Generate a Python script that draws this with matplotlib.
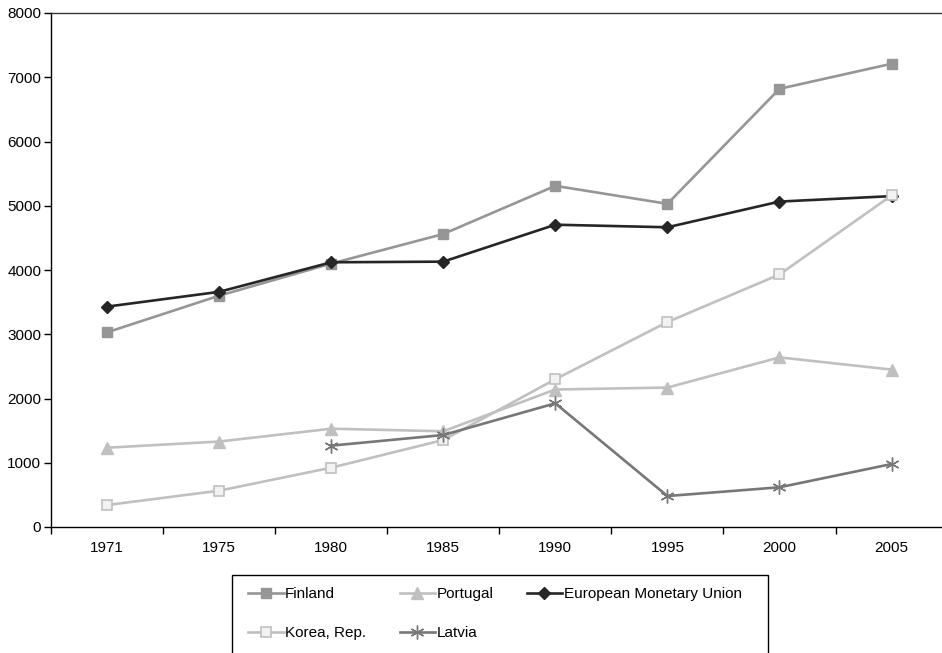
import numpy as np
import matplotlib.pyplot as plt
from matplotlib.patches import Rectangle
from matplotlib.ticker import MultipleLocator, FixedLocator

plt.rcParams['font.family'] = ['Liberation Sans', 'DejaVu Sans']

# Data
years = ['1971', '1975', '1980', '1985', '1990', '1995', '2000', '2005']
finland = [3030, 3600, 4100, 4560, 5310, 5030, 6820, 7210]
portugal = [1234, 1330, 1530, 1490, 2140, 2170, 2640, 2450]
emu = [3430, 3660, 4120, 4130, 4705, 4665, 5065, 5150]
korea = [342, 565, 923, 1354, 2300, 3190, 3930, 5160]
latvia = [np.nan, np.nan, 1266, 1432, 1925, 482, 618, 980]

x = np.arange(len(years))

fig = plt.figure(figsize=(9.42, 6.53), dpi=100)
ax = fig.add_axes([51 / 942, 126 / 653, 891 / 942, 514 / 653])

h_fin, = ax.plot(x, finland, '-s', color='#969696', lw=1.9, markersize=7,
                 mfc='#969696', mec='#969696', label='Finland')
h_por, = ax.plot(x, portugal, '-^', color='#C0C0C0', lw=1.9, markersize=8,
                 mfc='#C0C0C0', mec='#C0C0C0', label='Portugal')
h_emu, = ax.plot(x, emu, '-D', color='#262626', lw=1.9, markersize=6.5,
                 mfc='#262626', mec='#262626', label='European Monetary Union')
h_kor, = ax.plot(x, korea, '-s', color='#C0C0C0', lw=1.9, markersize=7,
                 mfc='#F2F2F2', mec='#C0C0C0', mew=1.2, label='Korea, Rep.')
h_lat, = ax.plot(x, latvia, '-', color='#777777', lw=1.9, marker=(6, 2, 0),
                 markersize=10, mec='#777777', mew=1.0, label='Latvia')

ax.set_ylim(0, 8000)
ax.set_xlim(-0.5, 7.45)
ax.yaxis.set_major_locator(MultipleLocator(1000))
ax.set_xticks(x)
ax.set_xticklabels(years)
ax.xaxis.set_minor_locator(FixedLocator(np.arange(-0.5, 8, 1)))
ax.tick_params(axis='x', which='major', length=0, pad=10, labelsize=11)
ax.tick_params(axis='x', which='minor', length=5, width=1, direction='out')
ax.tick_params(axis='y', which='major', length=5, width=1, direction='out',
               labelsize=11, pad=2)

for side in ['left', 'bottom', 'top']:
    ax.spines[side].set_linewidth(1.0)
    ax.spines[side].set_color('black')
ax.spines['top'].set_color('#333333')
ax.spines['right'].set_visible(False)

# legend box runs off the bottom of the picture, so draw the frame by hand
fig.patches.append(Rectangle((232 / 942, -0.05), 536 / 942, 0.05 + 1 - 575 / 653,
                             transform=fig.transFigure, fill=False,
                             edgecolor='black', linewidth=1.0))

handles = [h_fin, h_kor, h_por, h_lat, h_emu]
leg = fig.legend(handles=handles, labels=[h.get_label() for h in handles],
                 ncol=3, loc='upper left', bbox_to_anchor=(237 / 942, 1 - 576 / 653),
                 frameon=False, fontsize=11,
                 handlelength=2.3, handletextpad=0.1, columnspacing=2.2,
                 labelspacing=1.6, borderpad=0.75, borderaxespad=0)

fig.savefig('out.png', dpi=100)
